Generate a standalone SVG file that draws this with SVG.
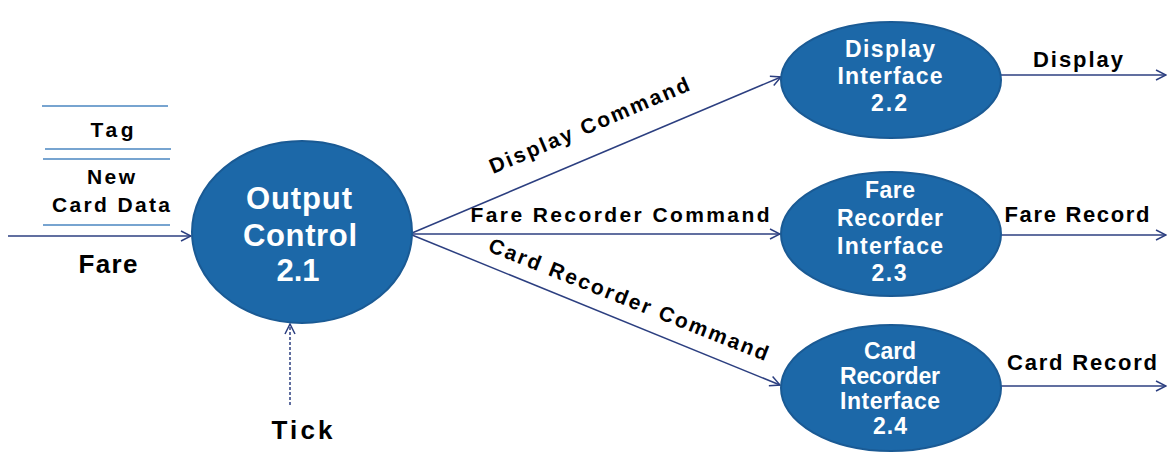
<svg xmlns="http://www.w3.org/2000/svg" width="1169" height="452" viewBox="0 0 1169 452">
<style>
.node{fill:#1c68a8;stroke:#1a5a94;stroke-width:2}
.nt{font-family:"Liberation Sans",Arial,sans-serif;font-weight:bold;fill:#ffffff;text-anchor:middle}
.lb{font-family:"Liberation Sans",Arial,sans-serif;font-weight:bold;fill:#000000;text-anchor:middle}
.flow{stroke:#2c3f80;stroke-width:1.5;fill:none}
.store{stroke:#4a86c0;stroke-width:1.5}
</style>
<defs>
<marker id="arr" viewBox="0 0 12 12" refX="11" refY="6" markerWidth="12" markerHeight="12" markerUnits="userSpaceOnUse" orient="auto">
<path d="M1,1 L11,6 L1,11" fill="none" stroke="#2c3f80" stroke-width="1.5"/>
</marker>
</defs>
<rect width="1169" height="452" fill="#ffffff"/>
<g id="connectors">
<line class="flow" x1="8" y1="236" x2="191" y2="236" marker-end="url(#arr)"/>
<line class="flow" x1="290" y1="405" x2="290" y2="324" stroke-dasharray="3,2" marker-end="url(#arr)"/>
<line class="flow" x1="412" y1="233" x2="781" y2="77" marker-end="url(#arr)"/>
<line class="flow" x1="412" y1="234" x2="780" y2="234" marker-end="url(#arr)"/>
<line class="flow" x1="412" y1="235" x2="780" y2="385" marker-end="url(#arr)"/>
<line class="flow" x1="1001" y1="75" x2="1166" y2="75" marker-end="url(#arr)"/>
<line class="flow" x1="1001" y1="235" x2="1166" y2="235" marker-end="url(#arr)"/>
<line class="flow" x1="1001" y1="386" x2="1166" y2="386" marker-end="url(#arr)"/>
</g>
<g id="datastore">
<line class="store" x1="42" y1="106" x2="168" y2="106"/>
<line class="store" x1="45" y1="149" x2="171" y2="149"/>
<line class="store" x1="43" y1="159" x2="170" y2="159"/>
<line class="store" x1="43" y1="225" x2="170" y2="225"/>
<text class="lb" x="112" y="137" font-size="21" textLength="43">Tag</text>
<text class="lb" x="111" y="184" font-size="21" textLength="48">New</text>
<text class="lb" x="111" y="212" font-size="21" textLength="118">Card Data</text>
</g>
<g id="labels">
<text class="lb" x="108" y="273" font-size="26" textLength="59">Fare</text>
<text class="lb" x="302" y="439" font-size="26" textLength="61">Tick</text>
<text class="lb" x="0" y="0" font-size="21" textLength="215" transform="translate(592,132) rotate(-23)">Display Command</text>
<text class="lb" x="620" y="222" font-size="21" textLength="299">Fare Recorder Command</text>
<text class="lb" x="0" y="0" font-size="21" textLength="299" transform="translate(626,306) rotate(21.6)">Card Recorder Command</text>
<text class="lb" x="1078" y="67" font-size="22" textLength="90">Display</text>
<text class="lb" x="1077" y="222" font-size="22" textLength="145">Fare Record</text>
<text class="lb" x="1082" y="370" font-size="22" textLength="150">Card Record</text>
</g>
<g id="n21">
<ellipse class="node" cx="302" cy="232" rx="110" ry="91"/>
<text class="nt" x="299" y="209" font-size="31" textLength="106">Output</text>
<text class="nt" x="300" y="246" font-size="31" textLength="114">Control</text>
<text class="nt" x="298" y="281" font-size="31" textLength="43">2.1</text>
</g>
<g id="n22">
<ellipse class="node" cx="891" cy="80" rx="110" ry="58"/>
<text class="nt" x="890" y="57" font-size="23" textLength="90">Display</text>
<text class="nt" x="890" y="84" font-size="23" textLength="105">Interface</text>
<text class="nt" x="889" y="111" font-size="23" textLength="36">2.2</text>
</g>
<g id="n23">
<ellipse class="node" cx="891" cy="234" rx="110" ry="62"/>
<text class="nt" x="890" y="198" font-size="23" textLength="50">Fare</text>
<text class="nt" x="890" y="226" font-size="23" textLength="106">Recorder</text>
<text class="nt" x="890" y="254" font-size="23" textLength="106">Interface</text>
<text class="nt" x="889" y="281" font-size="23" textLength="35">2.3</text>
</g>
<g id="n24">
<ellipse class="node" cx="891" cy="388" rx="110" ry="63"/>
<text class="nt" x="890" y="359" font-size="23" textLength="52">Card</text>
<text class="nt" x="890" y="384" font-size="23" textLength="100">Recorder</text>
<text class="nt" x="890" y="409" font-size="23" textLength="100">Interface</text>
<text class="nt" x="890" y="434" font-size="23" textLength="34">2.4</text>
</g>
</svg>
